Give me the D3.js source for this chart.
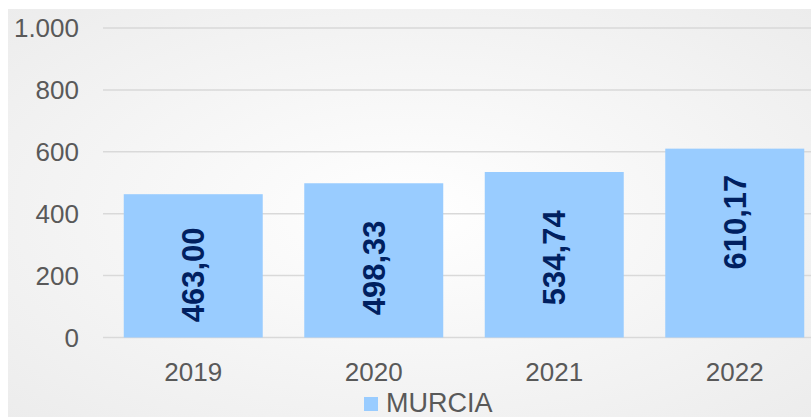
<!DOCTYPE html>
<html>
<head>
<meta charset="utf-8">
<script src="https://cdn.jsdelivr.net/npm/d3@7"></script>
<style>
  body { margin: 0; background: #fff; }
  svg { display: block; font-family: "Liberation Sans", Arial, sans-serif; }
</style>
</head>
<body>
<script>
var years = ["2019", "2020", "2021", "2022"];
var values = [463.00, 498.33, 534.74, 610.17];
var labels = ["463,00", "498,33", "534,74", "610,17"];
var yTicks = [0, 200, 400, 600, 800, 1000];
var yTickLabels = ["0", "200", "400", "600", "800", "1.000"];
var seriesName = "MURCIA";

var W = 811, H = 417;
var margin = {top: 28, left: 103, bottom: 337.5};
// labels in the original are not all exactly centred in their bar
var labelNudge = [9, 7.5, 3, -21];

var svg = d3.select("body").append("svg").attr("width", W).attr("height", H);

// soft grey background, lighter in the middle
var defs = svg.append("defs");
var grad = defs.append("radialGradient").attr("id", "bg").attr("cx", "50%").attr("cy", "50%").attr("r", "75%");
grad.append("stop").attr("offset", "0%").attr("stop-color", "#ffffff");
grad.append("stop").attr("offset", "100%").attr("stop-color", "#ebebeb");
svg.append("rect").attr("x", 8).attr("y", 9).attr("width", W - 8).attr("height", H - 9).attr("fill", "url(#bg)");

var x = d3.scaleBand().domain(years).range([margin.left, margin.left + 180.5 * years.length]).paddingInner(0.23).paddingOuter(0.115);
var y = d3.scaleLinear().domain([0, 1000]).range([margin.bottom, margin.top]);

// gridlines
svg.append("g").selectAll("line").data(yTicks).enter().append("line")
  .attr("x1", margin.left).attr("x2", W)
  .attr("y1", function(d) { return y(d); }).attr("y2", function(d) { return y(d); })
  .attr("stroke", "#d9d9d9").attr("stroke-width", 1.5);

// y labels
svg.append("g").selectAll("text").data(yTicks).enter().append("text")
  .attr("x", 79).attr("y", function(d) { return y(d); }).attr("dy", "0.35em")
  .attr("text-anchor", "end").attr("font-size", 26).attr("fill", "#595959")
  .text(function(d, i) { return yTickLabels[i]; });

// bars
svg.append("g").selectAll("rect").data(values).enter().append("rect")
  .attr("x", function(d, i) { return x(years[i]); })
  .attr("y", function(d) { return y(d); })
  .attr("width", x.bandwidth())
  .attr("height", function(d) { return y(0) - y(d); })
  .attr("fill", "#99ccff");

// value labels, rotated
svg.append("g").selectAll("text").data(values).enter().append("text")
  .attr("transform", function(d, i) {
    var cx = x(years[i]) + x.bandwidth() / 2;
    var cy = (y(d) + y(0)) / 2 + labelNudge[i];
    return "translate(" + cx + "," + cy + ") rotate(-90)";
  })
  .attr("text-anchor", "middle").attr("dy", "0.36em")
  .attr("font-size", 31).attr("font-weight", "bold").attr("fill", "#002060")
  .text(function(d, i) { return labels[i]; });

// x labels
svg.append("g").selectAll("text").data(years).enter().append("text")
  .attr("x", function(d) { return x(d) + x.bandwidth() / 2; })
  .attr("y", 381).attr("text-anchor", "middle")
  .attr("font-size", 26).attr("fill", "#595959")
  .text(function(d) { return d; });

// legend
svg.append("rect").attr("x", 364).attr("y", 397).attr("width", 14).attr("height", 14).attr("fill", "#99ccff");
svg.append("text").attr("x", 386).attr("y", 412).attr("font-size", 27).attr("fill", "#595959").text(seriesName);
</script>
</body>
</html>
